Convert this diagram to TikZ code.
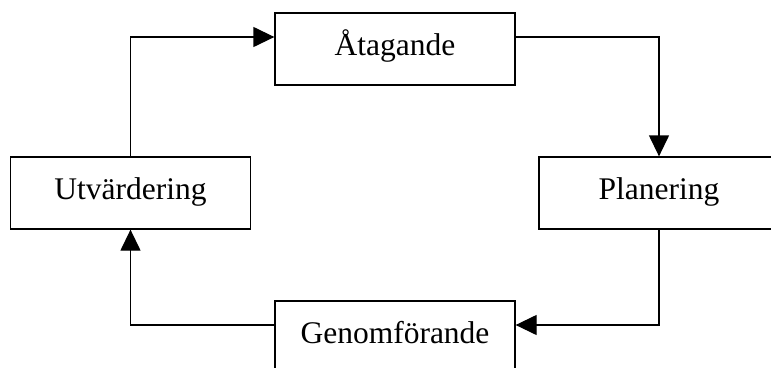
\documentclass[tikz,border=0pt]{standalone}
\usepackage{fontspec}
\setmainfont{Liberation Serif}
\usepackage{tikz}
\usetikzlibrary{positioning, arrows.meta}

\begin{document}
\begin{tikzpicture}[x=1pt, y=-1pt,
    fas/.style={draw, line width=1.3pt, minimum width=240pt, minimum height=72pt,
      inner sep=0pt, text height=20pt, text depth=8pt,
      font=\fontsize{31.5}{36}\selectfont},
    pil/.style={line width=1.3pt, -{Triangle[length=21pt, width=20pt]}}]
  \clip (0,0) rectangle (771,367);
  % Faserna
  \node[fas] (atag) at (395,49)    {Åtagande};
  \node[fas] (plan) at (659,193)   {Planering};
  \node[fas] (genf) at (395,337)   {Genomförande};
  \node[fas] (utv)  at (130.5,193) {Utvärdering};
  % Pilar
  \draw[pil] (utv.north) |- ([yshift=12pt]atag.west);
  \draw[pil] ([yshift=12pt]atag.east) -| (plan.north);
  \draw[pil] (plan.south) |- ([yshift=12pt]genf.east);
  \draw[pil] ([yshift=12pt]genf.west) -| (utv.south);
\end{tikzpicture}
\end{document}
